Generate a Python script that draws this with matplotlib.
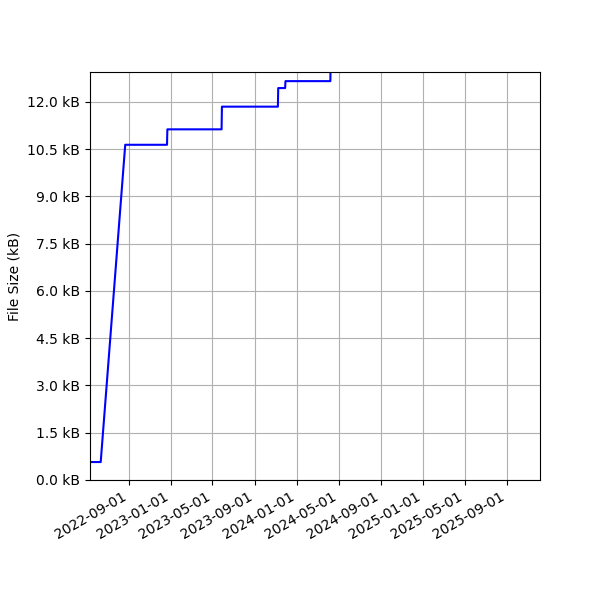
import numpy as np
import matplotlib
matplotlib.use("Agg")
import matplotlib.pyplot as plt
import matplotlib.dates as mdates
import matplotlib.ticker as mticker

# file size history (kB), points where the size changed
dates = np.array([
    "2022-05-12", "2022-06-12", "2022-08-22", "2022-12-21", "2022-12-22",
    "2023-05-28", "2023-05-29", "2023-11-07", "2023-11-08", "2023-11-28",
    "2023-11-29", "2024-04-07", "2024-04-08",
], dtype="datetime64[D]")
sizes_kb = [0.57, 0.57, 10.64, 10.64, 11.13,
            11.13, 11.85, 11.85, 12.44, 12.44,
            12.66, 12.66, 13.6]

x_start = np.datetime64("2022-05-12")
x_end = np.datetime64("2025-12-05")

fig, ax = plt.subplots(figsize=(6, 6), dpi=100)
ax.plot(dates, sizes_kb, color="blue", linewidth=1.5)

ax.set_xlim(x_start, x_end)
ax.set_ylim(0, 12.95)
ax.yaxis.set_major_locator(mticker.MultipleLocator(1.5))
ax.yaxis.set_major_formatter(mticker.FuncFormatter(lambda v, p: f"{v:.1f} kB"))
ax.xaxis.set_major_locator(mdates.MonthLocator(bymonth=[1, 5, 9]))
ax.xaxis.set_major_formatter(mdates.DateFormatter("%Y-%m-%d"))
ax.set_ylabel("File Size (kB)")
ax.grid(True)

fig.autofmt_xdate()
fig.subplots_adjust(left=0.15, right=0.9, top=0.88, bottom=0.2)
fig.savefig("out.png")
